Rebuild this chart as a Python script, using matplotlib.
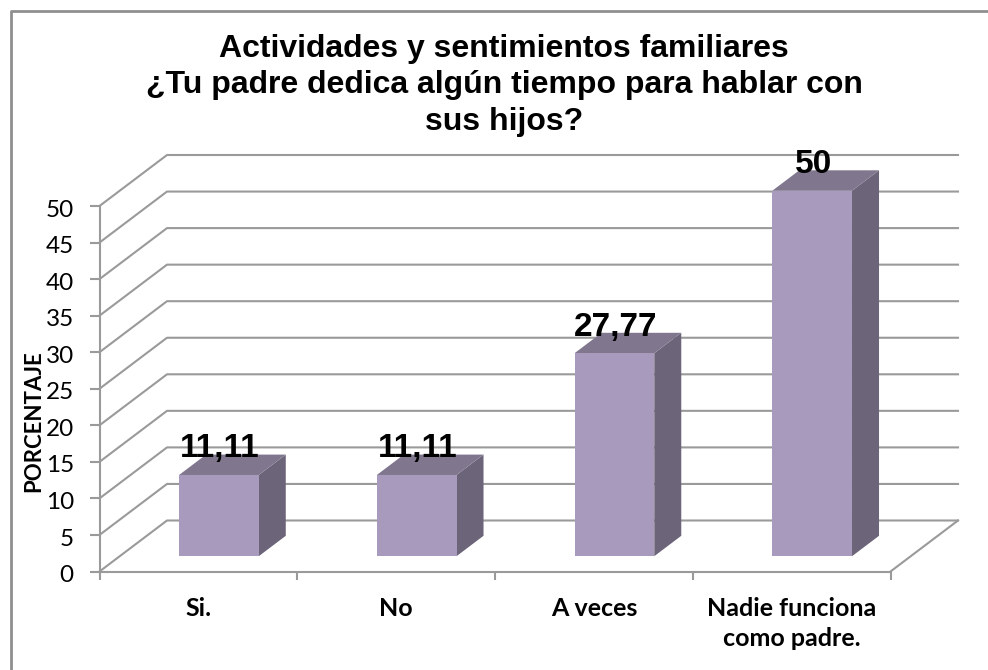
import matplotlib
matplotlib.use('Agg')
import matplotlib.pyplot as plt
from matplotlib.patches import Polygon
from matplotlib.lines import Line2D
from matplotlib.transforms import ScaledTranslation

categorias = ['Si.', 'No', 'A veces', 'Nadie funciona\ncomo padre.']
valores = [11.11, 11.11, 27.77, 50]
etiquetas = ['11,11', '11,11', '27,77', '50']
yticks = [0, 5, 10, 15, 20, 25, 30, 35, 40, 45, 50]

W, H = 988, 670
fig = plt.figure(figsize=(W/100, H/100), dpi=100)

# panel frontal en pixeles: x 99.5-890.5, y 571.5-206
ax = fig.add_axes([99.5/W, 1-571.5/H, 791/W, 365.5/H])
ax.set_xlim(0, 4)
ax.set_ylim(0, 50)
ax.patch.set_alpha(0)

gris = '#9a9a9a'
# fondo: 67 px a la derecha, 51 px arriba
DX = 67.5/(791/4)
DY = 51/(365.5/50)

for y in yticks:
    ax.plot([0, DX, 4+DX], [y, y+DY, y+DY], color=gris, lw=1.5, clip_on=False, zorder=1)
ax.plot([4, 4+DX], [0, DY], color=gris, lw=1.5, clip_on=False, zorder=1)

# barras, ocupan de 0.3 a 0.7 de la profundidad
frontal = '#a89abd'
arriba = '#80778f'
lado = '#6c6478'
d0, d1 = 0.3, 0.7
ancho = 0.403
for i, v in enumerate(valores):
    xa = i + 0.3 + d0*DX
    xb = xa + ancho
    y0 = d0*DY
    dxx, dyy = (d1-d0)*DX, (d1-d0)*DY
    ax.add_patch(Polygon([(xb, y0), (xb+dxx, y0+dyy), (xb+dxx, y0+dyy+v), (xb, y0+v)],
                         fc=lado, ec='none', clip_on=False, zorder=3))
    ax.add_patch(Polygon([(xa, y0+v), (xb, y0+v), (xb+dxx, y0+dyy+v), (xa+dxx, y0+dyy+v)],
                         fc=arriba, ec='none', clip_on=False, zorder=3))
    ax.add_patch(Polygon([(xa, y0), (xb, y0), (xb, y0+v), (xa, y0+v)],
                         fc=frontal, ec='none', clip_on=False, zorder=3))
    ax.text((xa+xb)/2+0.005, y0+v+2.4, etiquetas[i], family='Liberation Sans', fontweight='bold',
            fontsize=24, ha='center', va='baseline', color='black', zorder=5, clip_on=False)

for s in ['top', 'right']:
    ax.spines[s].set_visible(False)
for s in ['left', 'bottom']:
    ax.spines[s].set_color(gris)
    ax.spines[s].set_linewidth(1.5)
ax.set_yticks(yticks)
ax.set_xticks([0, 1, 2, 3, 4])
ax.set_xticklabels([])
ax.set_xticks([0.5, 1.5, 2.5, 3.5], minor=True)
ax.set_xticklabels(categorias, minor=True, family='Lato', fontweight='bold', fontsize=18, linespacing=1.42)
ax.tick_params(axis='x', which='minor', length=0, pad=18)
ax.tick_params(axis='x', which='major', length=6, color=gris, width=1.5, direction='out')
ax.tick_params(axis='y', length=7, color=gris, width=1.5, labelsize=17.5, pad=11.5)
abajo = ScaledTranslation(0, -1.5/72, fig.dpi_scale_trans)
for t in ax.get_yticklabels():
    t.set_family('Lato')
    t.set_transform(t.get_transform() + abajo)
ax.set_ylabel('PORCENTAJE', family='Lato', fontweight='bold', fontsize=16)
ax.yaxis.set_label_coords(-0.070, 0.412)

fig.text(504/W, 1-85.5/H, 'Actividades y sentimientos familiares\n¿Tu padre dedica algún tiempo para hablar con\nsus hijos?',
         family='Liberation Sans', fontweight='bold', fontsize=23, ha='center', va='center', linespacing=1.3)

# marco exterior: solo arriba e izquierda
fig.add_artist(Line2D([10.5/W, 10.5/W, 1], [0, 1-10.5/H, 1-10.5/H], transform=fig.transFigure,
                      color='#8f8f8f', lw=2))

fig.savefig('out.png', dpi=100)
